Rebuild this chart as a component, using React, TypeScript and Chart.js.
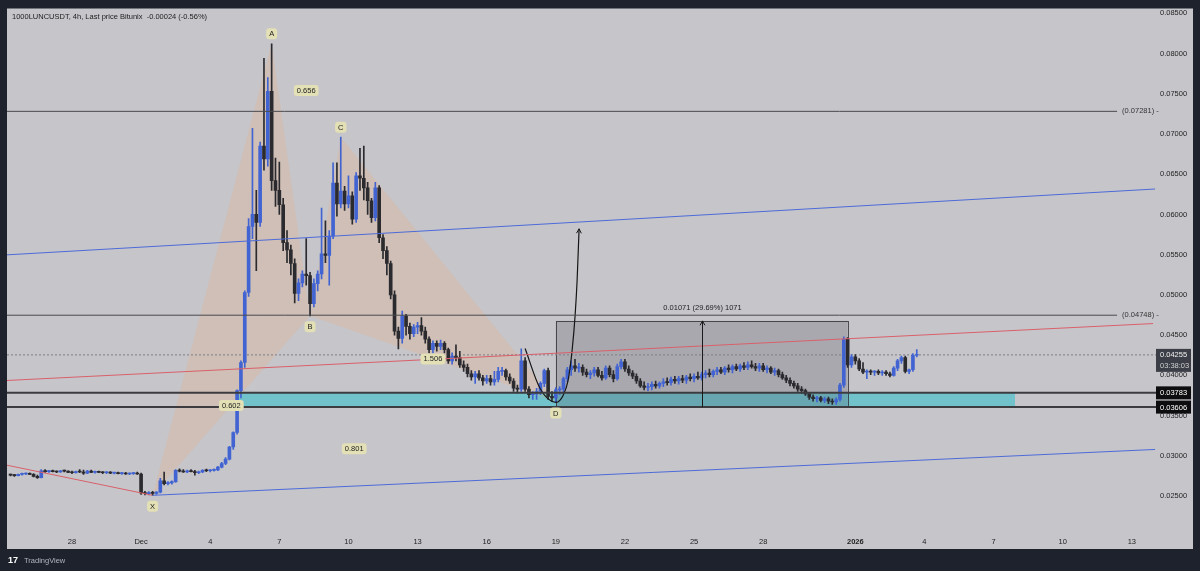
import React, { useEffect, useRef } from "react";
import { Chart, registerables } from "chart.js";

Chart.register(...registerables);

// ---------- DATA ----------
const titleText = "1000LUNCUSDT, 4h, Last price Bitunix  -0.00024 (-0.56%)";
const firstCandleHour = -136; // Nov 25 08:00, hours from Dec 1 00:00
const candleHours = 4;

const opens = [
  .02765,.02760,.02755,.02770,
  .02775,.02780,.02770,.02745,.02730,.02815,
  .02805,.02810,.02805,.02800,.02815,.02810,
  .02795,.02790,.02805,.02800,.02785,.02810,
  .02795,.02800,.02795,.02790,.02795,.02785,
  .02790,.02780,.02785,.02775,.02780,.02785,
  .02775,.02540,.02530,.02545,.02535,.02550,
  .02690,.02655,.02665,.02680,.02820,.02810,
  .02800,.02815,.02805,.02790,.02800,.02820,
  .02815,.02820,.02825,.02860,.02905,.02960,
  .03110,.03290,.03810,.04160,.05030,.05850,
  .06000,.05900,.06850,.06690,.07530,.06420,
  .06300,.06120,.05650,.05560,.05390,.05020,
  .05150,.05260,.05240,.04890,.05140,.05260,
  .05510,.05490,.05730,.06390,.06130,.06290,
  .06130,.06230,.05940,.06480,.06450,.06330,
  .06170,.05960,.06330,.05710,.05550,.05390,
  .05000,.04550,.04460,.04740,.04610,.04520,
  .04600,.04620,.04550,.04450,.04320,.04400,
  .04360,.04400,.04320,.04180,.04240,.04220,
  .04130,.04100,.04020,.03980,.04020,.03970,
  .03930,.03960,.03920,.03950,.04050,.04060,
  .03980,.03930,.03840,.03830,.04180,.03830,
  .03760,.03770,.03800,.03900,.04060,.03740,
  .03720,.03820,.03830,.03960,.04070,.04120,
  .04090,.04100,.04040,.04010,.04030,.04070,
  .04000,.03970,.04090,.04010,.03960,.04110,
  .04170,.04080,.04030,.03990,.03930,.03870,
  .03850,.03860,.03890,.03870,.03900,.03920,
  .03910,.03950,.03930,.03960,.03940,.03980,
  .03960,.03990,.03970,.04010,.04030,.04010,
  .04050,.04070,.04040,.04090,.04070,.04110,
  .04080,.04120,.04100,.04130,.04110,.04090,
  .04120,.04070,.04090,.04040,.04060,.04010,
  .03970,.03940,.03900,.03870,.03830,.03810,
  .03770,.03730,.03710,.03720,.03690,.03710,
  .03680,.03670,.03700,.03880,.04450,.04130,
  .04230,.04180,.04080,.04040,.04050,.04040,
  .04050,.04030,.04040,.04020,.04000,.04090,
  .04180,.04220,.04050,.04070,.04250,
];
const highs = [
  .02775,.02770,.02775,.02785,
  .02790,.02790,.02780,.02760,.02830,.02830,
  .02820,.02825,.02815,.02820,.02825,.02815,
  .02810,.02810,.02830,.02825,.02820,.02825,
  .02810,.02810,.02805,.02805,.02805,.02795,
  .02800,.02795,.02795,.02790,.02795,.02800,
  .02785,.02560,.02555,.02560,.02555,.02720,
  .02800,.02680,.02690,.02830,.02840,.02830,
  .02825,.02830,.02820,.02810,.02830,.02835,
  .02830,.02840,.02870,.02920,.02980,.03120,
  .03300,.03820,.04180,.05050,.05950,.07070,
  .06300,.06900,.07940,.07700,.08120,.06700,
  .06650,.06200,.05800,.05620,.05450,.05200,
  .05300,.05700,.05280,.05200,.05300,.06080,
  .05920,.05800,.06640,.06640,.06960,.06350,
  .06480,.06280,.06520,.06820,.06850,.06400,
  .06200,.06400,.06360,.05750,.05600,.05420,
  .05050,.04600,.04800,.04760,.04650,.04630,
  .04660,.04720,.04600,.04480,.04430,.04430,
  .04440,.04420,.04340,.04280,.04380,.04300,
  .04180,.04140,.04060,.04050,.04060,.04000,
  .04000,.04000,.04050,.04100,.04100,.04080,
  .04020,.03960,.03880,.04330,.04220,.03860,
  .03800,.03840,.03920,.04080,.04090,.03800,
  .03850,.03860,.03980,.04100,.04180,.04200,
  .04150,.04130,.04080,.04060,.04100,.04100,
  .04050,.04120,.04120,.04060,.04140,.04200,
  .04200,.04120,.04060,.04020,.03960,.03920,
  .03900,.03920,.03930,.03920,.03960,.03970,
  .03980,.03990,.03990,.04000,.04000,.04020,
  .04020,.04040,.04040,.04060,.04080,.04070,
  .04100,.04100,.04110,.04130,.04130,.04140,
  .04140,.04160,.04170,.04180,.04150,.04150,
  .04150,.04120,.04110,.04090,.04080,.04040,
  .04000,.03970,.03930,.03900,.03860,.03830,
  .03790,.03760,.03740,.03740,.03730,.03730,
  .03710,.03720,.03900,.04480,.04470,.04260,
  .04260,.04210,.04160,.04070,.04070,.04060,
  .04070,.04060,.04060,.04040,.04110,.04200,
  .04240,.04240,.04080,.04270,.04320,
];
const lows = [
  .02750,.02745,.02750,.02760,
  .02765,.02765,.02740,.02720,.02725,.02795,
  .02795,.02800,.02790,.02795,.02800,.02790,
  .02780,.02785,.02790,.02770,.02780,.02790,
  .02785,.02790,.02780,.02780,.02780,.02775,
  .02775,.02770,.02770,.02765,.02770,.02770,
  .02520,.02515,.02515,.02510,.02520,.02540,
  .02640,.02640,.02650,.02670,.02800,.02795,
  .02790,.02800,.02760,.02780,.02790,.02805,
  .02800,.02810,.02815,.02850,.02890,.02950,
  .03080,.03270,.03720,.04100,.04980,.05700,
  .05300,.05850,.06550,.06600,.06300,.06100,
  .06000,.05550,.05400,.05250,.04900,.04930,
  .05100,.05120,.04740,.04850,.05050,.05200,
  .05400,.05120,.05700,.05980,.06080,.06050,
  .06080,.05880,.05900,.06300,.06180,.06000,
  .05900,.05920,.05650,.05450,.05250,.04950,
  .04500,.04330,.04400,.04500,.04450,.04480,
  .04520,.04500,.04400,.04280,.04280,.04300,
  .04320,.04280,.04150,.04140,.04180,.04100,
  .04050,.03980,.03940,.03900,.03940,.03880,
  .03900,.03880,.03880,.03920,.04000,.03940,
  .03900,.03800,.03780,.03800,.03800,.03720,
  .03700,.03700,.03760,.03860,.03700,.03680,
  .03670,.03760,.03780,.03920,.04000,.04050,
  .04040,.04000,.03980,.03960,.03990,.03980,
  .03940,.03950,.03980,.03920,.03940,.04080,
  .04050,.04000,.03960,.03900,.03850,.03820,
  .03810,.03820,.03840,.03840,.03860,.03880,
  .03880,.03900,.03890,.03910,.03900,.03930,
  .03920,.03950,.03940,.03970,.03980,.03980,
  .04010,.04020,.04010,.04040,.04030,.04060,
  .04050,.04070,.04070,.04090,.04060,.04050,
  .04050,.04030,.04020,.04000,.03980,.03950,
  .03910,.03870,.03840,.03800,.03780,.03750,
  .03700,.03680,.03670,.03670,.03660,.03650,
  .03640,.03640,.03680,.03850,.04100,.04100,
  .04140,.04060,.04020,.03960,.04010,.04000,
  .04010,.04000,.04000,.03980,.03990,.04060,
  .04150,.04030,.04020,.04050,.04230,
];
const closes = [
  .02760,.02755,.02770,.02775,
  .02780,.02770,.02745,.02730,.02815,.02805,
  .02810,.02805,.02800,.02815,.02810,.02795,
  .02790,.02805,.02800,.02785,.02810,.02795,
  .02800,.02795,.02790,.02795,.02785,.02790,
  .02780,.02785,.02775,.02780,.02785,.02775,
  .02540,.02530,.02545,.02535,.02550,.02690,
  .02655,.02665,.02680,.02820,.02810,.02800,
  .02815,.02805,.02790,.02800,.02820,.02815,
  .02820,.02825,.02860,.02905,.02960,.03110,
  .03290,.03810,.04160,.05030,.05850,.06000,
  .05900,.06850,.06690,.07530,.06420,.06300,
  .06120,.05650,.05560,.05390,.05020,.05150,
  .05260,.05240,.04890,.05140,.05260,.05510,
  .05490,.05730,.06390,.06130,.06290,.06130,
  .06230,.05940,.06480,.06450,.06330,.06170,
  .05960,.06330,.05710,.05550,.05390,.05000,
  .04550,.04460,.04740,.04610,.04520,.04600,
  .04620,.04550,.04450,.04320,.04400,.04360,
  .04400,.04320,.04180,.04240,.04220,.04130,
  .04100,.04020,.03980,.04020,.03970,.03930,
  .03960,.03920,.03950,.04050,.04060,.03980,
  .03930,.03840,.03830,.04180,.03830,.03760,
  .03770,.03800,.03900,.04060,.03740,.03720,
  .03820,.03830,.03960,.04070,.04120,.04090,
  .04100,.04040,.04010,.04030,.04070,.04000,
  .03970,.04090,.04010,.03960,.04110,.04170,
  .04080,.04030,.03990,.03930,.03870,.03850,
  .03860,.03890,.03870,.03900,.03920,.03910,
  .03950,.03930,.03960,.03940,.03980,.03960,
  .03990,.03970,.04010,.04030,.04010,.04050,
  .04070,.04040,.04090,.04070,.04110,.04080,
  .04120,.04100,.04130,.04110,.04090,.04120,
  .04070,.04090,.04040,.04060,.04010,.03970,
  .03940,.03900,.03870,.03830,.03810,.03770,
  .03730,.03710,.03720,.03690,.03710,.03680,
  .03670,.03700,.03880,.04450,.04130,.04230,
  .04180,.04080,.04040,.04050,.04040,.04050,
  .04030,.04040,.04020,.04000,.04090,.04180,
  .04220,.04050,.04070,.04250,.04255,
];

// axes
const xMin = -5.82;
const xMax = 44.05;
const yMin = 0.02079;
const yMax = 0.08559;
const priceTicks = [0.025, 0.03, 0.035, 0.04, 0.045, 0.05, 0.055, 0.06, 0.065, 0.07, 0.075, 0.08, 0.085];
const timeTickDays = [-3, 0, 3, 6, 9, 12, 15, 18, 21, 24, 27, 31, 34, 37, 40, 43];
const timeTickLabels = ["28", "Dec", "4", "7", "10", "13", "16", "19", "22", "25", "28", "2026", "4", "7", "10", "13"];

// XABCD harmonic pattern
const patternNames = ["X", "A", "B", "C", "D"];
const patternDays = [0.5, 5.667, 7.333, 8.667, 18.0];
const patternPrices = [0.0251, 0.0812, 0.0474, 0.0696, 0.0367];
const patternLabelAbove = [false, true, false, true, false];
const ratioLabels = ["0.602", "0.656", "1.506", "0.801"];
const ratioFrom = [0, 1, 2, 0];
const ratioTo = [2, 3, 4, 4];

// trend lines
const blueUpperDays = [-5.82, 44.01];
const blueUpperPrices = [0.05498, 0.06316];
const blueLowerDays = [0.5, 44.01];
const blueLowerPrices = [0.0251, 0.0308];
const redUpperDays = [-5.82, 43.92];
const redUpperPrices = [0.03937, 0.04644];
const redLowerDays = [-5.82, 0.5];
const redLowerPrices = [0.02884, 0.0251];

// horizontal rays
const rayLevels = [0.07281, 0.04748];
const rayLabels = ["(0.07281) -", "(0.04748) -"];
const rayEndDay = 42.36;

// support zone
const zoneLevels = [0.03783, 0.03606];
const zoneStartDay = 4.17;
const zoneEndDay = 37.93;

// measurement box
const measureStartDay = 18.0;
const measureEndDay = 30.67;
const measureLow = 0.03606;
const measureHigh = 0.04677;
const measureText = "0.01071 (29.69%) 1071";

// projected path (curved arrow)
const pathDays = [16.667, 17.318, 18.012, 18.316, 18.533, 18.707, 18.837, 18.924, 19.01];
const pathPrices = [0.04334, 0.03838, 0.03665, 0.03751, 0.03937, 0.04309, 0.04743, 0.05176, 0.05821];

const countdownText = "03:38:03";

// ---------- STYLE ----------
const FONT = "'Liberation Sans', Arial, sans-serif";
const FRAME = "#1e222d";
const PANEL = "#c6c5ca";
const UP = "#4264d2";
const DOWN = "#2b2b2f";
const TEXT = "#232323";
const LABEL_BG = "#e3e0b6";

function candleDay(i: number) {
  return (firstCandleHour + i * candleHours) / 24;
}

function pts(days: number[], prices: number[]) {
  return days.map((d, i) => ({ x: d, y: prices[i] }));
}

function labelBox(ctx: any, text: string, cx: number, cy: number) {
  ctx.font = `7.5px ${FONT}`;
  const w = Math.max(ctx.measureText(text).width + 6, 11);
  const h = 11;
  ctx.fillStyle = LABEL_BG;
  ctx.beginPath();
  if (ctx.roundRect) ctx.roundRect(cx - w / 2, cy - h / 2, w, h, 3);
  else ctx.rect(cx - w / 2, cy - h / 2, w, h);
  ctx.fill();
  ctx.fillStyle = TEXT;
  ctx.textAlign = "center";
  ctx.textBaseline = "middle";
  ctx.fillText(text, cx, cy + 0.5);
}

function arrowHead(ctx: any, x: number, y: number, angle: number, size: number) {
  ctx.beginPath();
  ctx.moveTo(x - size * Math.cos(angle - 0.5), y - size * Math.sin(angle - 0.5));
  ctx.lineTo(x, y);
  ctx.lineTo(x - size * Math.cos(angle + 0.5), y - size * Math.sin(angle + 0.5));
  ctx.stroke();
}

const overlayPlugin = {
  id: "overlay",
  beforeDraw(chart: any) {
    const { ctx, chartArea, scales } = chart;
    ctx.save();
    ctx.fillStyle = FRAME;
    ctx.fillRect(0, 0, chart.width, chart.height);
    ctx.fillStyle = PANEL;
    ctx.fillRect(chartArea.left, chartArea.top, scales.y.right - chartArea.left, scales.x.bottom - chartArea.top);
    ctx.restore();
  },
  beforeDatasetsDraw(chart: any) {
    const { ctx, chartArea, scales } = chart;
    const X = (d: number) => scales.x.getPixelForValue(d);
    const Y = (p: number) => scales.y.getPixelForValue(p);
    ctx.save();
    ctx.beginPath();
    ctx.rect(chartArea.left, chartArea.top, chartArea.right - chartArea.left, chartArea.bottom - chartArea.top);
    ctx.clip();
    // support zone
    ctx.fillStyle = "#72c2cc";
    ctx.fillRect(X(zoneStartDay), Y(zoneLevels[0]), X(zoneEndDay) - X(zoneStartDay), Y(zoneLevels[1]) - Y(zoneLevels[0]));
    // harmonic triangles
    ctx.fillStyle = "rgba(250,165,95,0.18)";
    const tri = (a: number, b: number, c: number) => {
      ctx.beginPath();
      ctx.moveTo(X(patternDays[a]), Y(patternPrices[a]));
      ctx.lineTo(X(patternDays[b]), Y(patternPrices[b]));
      ctx.lineTo(X(patternDays[c]), Y(patternPrices[c]));
      ctx.closePath();
      ctx.fill();
    };
    tri(0, 1, 2);
    tri(2, 3, 4);
    // measurement box
    const mx0 = X(measureStartDay), mx1 = X(measureEndDay);
    const my0 = Y(measureHigh), my1 = Y(measureLow);
    ctx.fillStyle = "rgba(70,70,80,0.22)";
    ctx.fillRect(mx0, my0, mx1 - mx0, my1 - my0);
    ctx.strokeStyle = "rgba(45,45,50,0.8)";
    ctx.lineWidth = 1;
    ctx.strokeRect(Math.round(mx0) + 0.5, Math.round(my0) + 0.5, Math.round(mx1 - mx0), Math.round(my1 - my0));
    ctx.restore();
  },
  afterDatasetsDraw(chart: any) {
    const { ctx, scales } = chart;
    const X = (d: number) => scales.x.getPixelForValue(d);
    const Y = (p: number) => scales.y.getPixelForValue(p);
    ctx.save();
    // measurement arrow
    const mid = Math.round(X((measureStartDay + measureEndDay) / 2)) + 0.5;
    ctx.strokeStyle = "#1a1a1a";
    ctx.lineWidth = 1;
    ctx.beginPath();
    ctx.moveTo(mid, Y(measureLow));
    ctx.lineTo(mid, Y(measureHigh));
    ctx.stroke();
    arrowHead(ctx, mid, Y(measureHigh), -Math.PI / 2, 5);
    ctx.font = `7.5px ${FONT}`;
    ctx.fillStyle = TEXT;
    ctx.textAlign = "center";
    ctx.textBaseline = "middle";
    ctx.fillText(measureText, mid, Y(measureHigh) - 13);
    // curved path arrowhead
    const n = pathDays.length;
    const ex = X(pathDays[n - 1]), ey = Y(pathPrices[n - 1]);
    const bx = X(pathDays[n - 2]), by = Y(pathPrices[n - 2]);
    ctx.strokeStyle = "#151515";
    arrowHead(ctx, ex, ey, Math.atan2(ey - by, ex - bx), 5);
    // ray labels
    ctx.font = `7.5px ${FONT}`;
    ctx.fillStyle = "#333";
    ctx.textAlign = "left";
    rayLevels.forEach((lv, i) => {
      ctx.fillText(rayLabels[i], X(rayEndDay) + 5, Y(lv));
    });
    // ratio labels
    ratioLabels.forEach((t, i) => {
      const a = ratioFrom[i], b = ratioTo[i];
      const cx = (X(patternDays[a]) + X(patternDays[b])) / 2;
      const cy = (Y(patternPrices[a]) + Y(patternPrices[b])) / 2;
      labelBox(ctx, t, cx, cy);
    });
    // point labels
    patternNames.forEach((nm, i) => {
      const cx = X(patternDays[i]);
      const cy = Y(patternPrices[i]) + (patternLabelAbove[i] ? -10 : 11);
      labelBox(ctx, nm, cx, cy);
    });
    ctx.restore();
  },
  afterDraw(chart: any) {
    const { ctx, chartArea, scales } = chart;
    const Y = (p: number) => scales.y.getPixelForValue(p);
    const left = chartArea.right;
    const w = scales.y.right - chartArea.right - 2;
    ctx.save();
    ctx.font = `7.5px ${FONT}`;
    ctx.textAlign = "left";
    ctx.textBaseline = "middle";
    // last price box
    const last = closes[closes.length - 1];
    const ly = Y(last);
    ctx.fillStyle = "#3b3e47";
    ctx.fillRect(left, ly - 6, w, 23);
    ctx.fillStyle = "#f2f2f2";
    ctx.fillText(last.toFixed(5), left + 4, ly + 0.5);
    ctx.fillStyle = "#d0d0d0";
    ctx.fillText(countdownText, left + 4, ly + 11.5);
    // zone level boxes
    zoneLevels.forEach((lv) => {
      const y = Y(lv);
      ctx.fillStyle = "#0d0d0f";
      ctx.fillRect(left, y - 6.5, w, 13);
      ctx.fillStyle = "#ffffff";
      ctx.fillText(lv.toFixed(5), left + 4, y + 0.5);
    });
    // title
    ctx.fillStyle = "#1c1c1c";
    ctx.fillText(titleText, chartArea.left + 5, chartArea.top + 8);
    // footer branding
    const fy = scales.x.bottom + 12;
    ctx.fillStyle = "#ffffff";
    ctx.font = `bold 9px ${FONT}`;
    ctx.fillText("17", chartArea.left + 1, fy);
    ctx.fillStyle = "#b2b5be";
    ctx.font = `7.5px ${FONT}`;
    ctx.fillText("TradingView", chartArea.left + 17, fy);
    ctx.restore();
  },
};

export default function App() {
  const ref = useRef<HTMLCanvasElement>(null);
  useEffect(() => {
    const canvas = ref.current;
    if (!canvas) return;
    const times = closes.map((_, i) => candleDay(i));
    const colors = closes.map((c, i) => (c >= opens[i] ? UP : DOWN));
    const wickData = times.map((t, i) => ({ x: t, y: [lows[i], highs[i]] }));
    const bodyData = times.map((t, i) => ({ x: t, y: [opens[i], closes[i]] }));
    const lastPrice = closes[closes.length - 1];

    const line = (data: any[], color: string, width: number, extra: any = {}) => ({
      type: "line",
      data,
      borderColor: color,
      borderWidth: width,
      pointRadius: 0,
      fill: false,
      tension: 0,
      order: 0,
      ...extra,
    });

    const chart = new Chart(canvas, {
      type: "bar",
      data: {
        datasets: [
          line(pts([xMin, xMax], [lastPrice, lastPrice]), "#7d7d85", 1, { borderDash: [2, 2], order: 3 }),
          line(pts(blueUpperDays, blueUpperPrices), "#4d6bd8", 1),
          line(pts(blueLowerDays, blueLowerPrices), "#4d6bd8", 1),
          line(pts(redUpperDays, redUpperPrices), "#d9606a", 1),
          line(pts(redLowerDays, redLowerPrices), "#d9606a", 1),
          line(pts([xMin, rayEndDay], [rayLevels[0], rayLevels[0]]), "#4a4a4e", 1),
          line(pts([xMin, rayEndDay], [rayLevels[1], rayLevels[1]]), "#4a4a4e", 1),
          line(pts([xMin, xMax], [zoneLevels[0], zoneLevels[0]]), "#3c3c40", 2),
          line(pts([xMin, xMax], [zoneLevels[1], zoneLevels[1]]), "#3c3c40", 2),
          line(pts(pathDays, pathPrices), "#151515", 1.2, { cubicInterpolationMode: "monotone" }),
          {
            type: "bar",
            data: bodyData,
            backgroundColor: colors,
            borderWidth: 0,
            barThickness: 3,
            minBarLength: 1,
            grouped: false,
            order: 1,
          },
          {
            type: "bar",
            data: wickData,
            backgroundColor: colors,
            borderWidth: 0,
            barThickness: 1,
            grouped: false,
            order: 2,
          },
        ] as any,
      },
      options: {
        responsive: false,
        animation: false,
        events: [],
        layout: { padding: { left: 7, right: 7, top: 7, bottom: 22 } },
        plugins: { legend: { display: false }, tooltip: { enabled: false }, title: { display: false } },
        scales: {
          x: {
            type: "linear",
            min: xMin,
            max: xMax,
            offset: false,
            grid: { display: false, drawTicks: false },
            border: { display: false },
            afterBuildTicks: (s: any) => {
              s.ticks = timeTickDays.map((v) => ({ value: v }));
            },
            afterFit: (s: any) => {
              s.height = 19;
            },
            ticks: {
              autoSkip: false,
              maxRotation: 0,
              minRotation: 0,
              padding: 7,
              color: TEXT,
              font: (c: any) => ({
                family: FONT,
                size: 7.5,
                weight: timeTickLabels[c.index] === "2026" ? "bold" : "normal",
              }),
              callback: (_v: any, i: number) => timeTickLabels[i],
            },
          },
          y: {
            type: "linear",
            position: "right",
            min: yMin,
            max: yMax,
            grid: { display: false, drawTicks: false },
            border: { display: false },
            afterBuildTicks: (s: any) => {
              s.ticks = priceTicks.map((v) => ({ value: v }));
            },
            afterFit: (s: any) => {
              s.width = 37;
            },
            ticks: {
              padding: 4,
              color: TEXT,
              font: { family: FONT, size: 7.5 },
              callback: (v: any) => Number(v).toFixed(5),
            },
          },
        },
      } as any,
      plugins: [overlayPlugin as any],
    });
    return () => chart.destroy();
  }, []);

  return (
    <div style={{ position: "fixed", left: 0, top: 0, width: 1200, height: 571, background: FRAME }}>
      <canvas ref={ref} width={1200} height={571} style={{ display: "block", width: 1200, height: 571 }} />
    </div>
  );
}
